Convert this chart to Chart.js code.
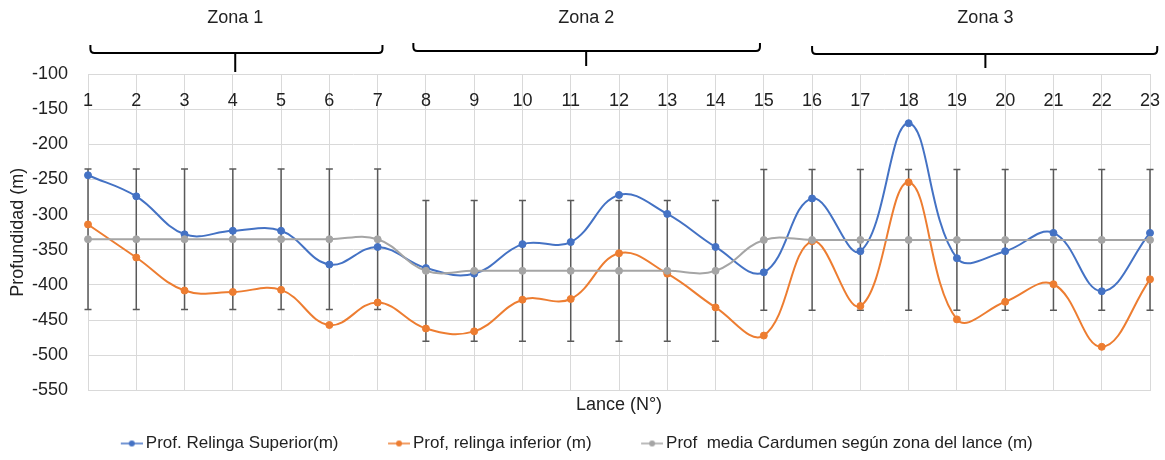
<!DOCTYPE html>
<html lang="es">
<head>
<meta charset="utf-8">
<title>Profundidad por lance</title>
<script src="https://cdn.jsdelivr.net/npm/chart.js@4.4.1/dist/chart.umd.min.js"></script>
<style>
  html, body { margin: 0; padding: 0; background: #fff; }
  #wrap { width: 1165px; height: 460px; }
</style>
</head>
<body>
<div id="wrap"><canvas id="profChart"></canvas></div>
<script>
// Lances 1..23
const lances = ['1', '2', '3', '4', '5', '6', '7', '8', '9', '10', '11', '12',
                '13', '14', '15', '16', '17', '18', '19', '20', '21', '22', '23'];

const relingaSuperior = [-244, -274, -328, -323, -323, -371, -346, -376, -384, -342, -339, -272,
                         -299, -346, -382, -277, -352, -170, -362, -352, -326, -409, -326];

const relingaInferior = [-314, -361, -408, -410, -407, -457, -425, -462, -466, -421, -420, -355,
                         -384, -432, -472, -338, -430, -254, -449, -424, -399, -488, -392];

const cardumenMedia = [-335, -335, -335, -335, -335, -335, -335, -380, -380, -380, -380, -380,
                       -380, -380, -336, -336, -336, -336, -336, -336, -336, -336, -336];

// rango +/- de la profundidad del cardumen
const cardumenError = [100, 100, 100, 100, 100, 100, 100, 100, 100, 100, 100, 100,
                       100, 100, 100, 100, 100, 100, 100, 100, 100, 100, 100];

const zonas = ['Zona 1', 'Zona 2', 'Zona 3'];

// llaves de cada zona, en unidades de lance (indice 0 = lance 1)
const llaves = [
  { desde: 0.05, hasta: 6.10, centro: 3.05, linea: 53, punta: 72 },
  { desde: 6.74, hasta: 13.92, centro: 10.32, linea: 51, punta: 66 },
  { desde: 15.0, hasta: 22.15, centro: 18.59, linea: 54, punta: 68 }
];

const AZUL = '#4472C4';
const NARANJO = '#ED7D31';
const GRIS = '#A5A5A5';
const TEXTO = '#222222';
const FUENTE = "'Liberation Sans', Arial, sans-serif";
const CAJA_LEYENDA = 56;

Chart.defaults.font.family = FUENTE;
Chart.defaults.color = TEXTO;

// marca de leyenda: trazo corto con punto, pegado al borde derecho
function marcaLeyenda(color) {
  const w = CAJA_LEYENDA + 11;
  const c = document.createElement('canvas');
  c.width = w;
  c.height = 10;
  const g = c.getContext('2d');
  g.strokeStyle = color;
  g.lineWidth = 1.5;
  g.beginPath();
  g.moveTo(w - 22, 5);
  g.lineTo(w, 5);
  g.stroke();
  g.fillStyle = color;
  g.beginPath();
  g.arc(w - 11, 5, 3, 0, Math.PI * 2);
  g.fill();
  return c;
}

const decoraciones = {
  id: 'decoraciones',
  afterLayout(chart) {
    const lg = chart.legend;
    lg.left -= 20;
    lg.right -= 20;
    lg.top += 2;
    lg.bottom += 2;
  },
  beforeDatasetsDraw(chart) {
    // barras de error del cardumen
    const x = chart.scales.x, y = chart.scales.y, ctx = chart.ctx;
    ctx.save();
    ctx.strokeStyle = '#595959';
    ctx.lineWidth = 1.5;
    cardumenMedia.forEach((v, i) => {
      const px = x.getPixelForValue(i);
      const yTop = y.getPixelForValue(v + cardumenError[i]);
      const yBot = y.getPixelForValue(v - cardumenError[i]);
      ctx.beginPath();
      ctx.moveTo(px, yTop);
      ctx.lineTo(px, yBot);
      ctx.moveTo(px - 3.5, yTop);
      ctx.lineTo(px + 3.5, yTop);
      ctx.moveTo(px - 3.5, yBot);
      ctx.lineTo(px + 3.5, yBot);
      ctx.stroke();
    });
    ctx.restore();
  },
  afterDraw(chart) {
    const x = chart.scales.x, ctx = chart.ctx, top = chart.chartArea.top;
    ctx.save();
    ctx.fillStyle = TEXTO;
    ctx.font = '18px ' + FUENTE;
    ctx.textAlign = 'center';
    ctx.textBaseline = 'middle';

    // numeros de lance dentro del area, bajo el borde superior
    lances.forEach((l, i) => {
      ctx.fillText(l, x.getPixelForValue(i), top + 27);
    });

    // llaves y nombres de zona
    ctx.strokeStyle = '#000';
    ctx.lineWidth = 2;
    llaves.forEach((k, i) => {
      const x0 = x.getPixelForValue(k.desde);
      const x1 = x.getPixelForValue(k.hasta);
      const xc = x.getPixelForValue(k.centro);
      const r = 4;
      ctx.beginPath();
      ctx.moveTo(x0, k.linea - 8);
      ctx.lineTo(x0, k.linea - r);
      ctx.quadraticCurveTo(x0, k.linea, x0 + r, k.linea);
      ctx.lineTo(x1 - r, k.linea);
      ctx.quadraticCurveTo(x1, k.linea, x1, k.linea - r);
      ctx.lineTo(x1, k.linea - 8);
      ctx.moveTo(xc, k.linea);
      ctx.lineTo(xc, k.punta);
      ctx.stroke();
      ctx.fillText(zonas[i], xc, 18);
    });
    ctx.restore();
  }
};

const colores = [AZUL, NARANJO, GRIS];

new Chart(document.getElementById('profChart'), {
  type: 'line',
  data: {
    labels: lances,
    datasets: [
      {
        label: 'Prof. Relinga Superior(m)',
        data: relingaSuperior,
        borderColor: AZUL,
        backgroundColor: AZUL,
        order: 2
      },
      {
        label: 'Prof, relinga inferior (m)',
        data: relingaInferior,
        borderColor: NARANJO,
        backgroundColor: NARANJO,
        order: 1
      },
      {
        label: 'Prof  media Cardumen según zona del lance (m)',
        data: cardumenMedia,
        borderColor: GRIS,
        backgroundColor: GRIS,
        order: 0
      }
    ]
  },
  options: {
    responsive: true,
    maintainAspectRatio: false,
    animation: false,
    layout: { padding: { top: 74, left: 4, right: 15, bottom: 0 } },
    elements: {
      line: { tension: 0.4, borderWidth: 2, fill: false },
      point: { radius: 3.5, hoverRadius: 4, pointStyle: 'circle' }
    },
    plugins: {
      legend: {
        position: 'bottom',
        labels: {
          usePointStyle: true,
          pointStyleWidth: CAJA_LEYENDA,
          padding: 10,
          font: { size: 17 },
          color: TEXTO,
          sort: (a, b) => a.datasetIndex - b.datasetIndex,
          generateLabels(chart) {
            const items = Chart.defaults.plugins.legend.labels.generateLabels(chart);
            items.forEach(it => { it.pointStyle = marcaLeyenda(colores[it.datasetIndex]); });
            return items;
          }
        }
      },
      tooltip: { enabled: false }
    },
    scales: {
      x: {
        type: 'category',
        offset: false,
        grid: { color: '#D9D9D9', drawTicks: false },
        border: { color: '#D9D9D9' },
        ticks: { display: false },
        title: {
          display: true,
          text: 'Lance (N°)',
          font: { size: 18 },
          color: TEXTO,
          padding: { top: 4, bottom: 7 }
        }
      },
      y: {
        min: -550,
        max: -100,
        grid: { color: '#D9D9D9', drawTicks: false },
        border: { display: false },
        ticks: { stepSize: 50, font: { size: 18 }, color: TEXTO, padding: 20 },
        title: {
          display: true,
          text: 'Profundidad (m)',
          font: { size: 18 },
          color: TEXTO,
          padding: { top: 3, bottom: 2 }
        },
        afterFit(scale) {
          scale.width = 84;
        }
      }
    }
  },
  plugins: [decoraciones]
});
</script>
</body>
</html>
